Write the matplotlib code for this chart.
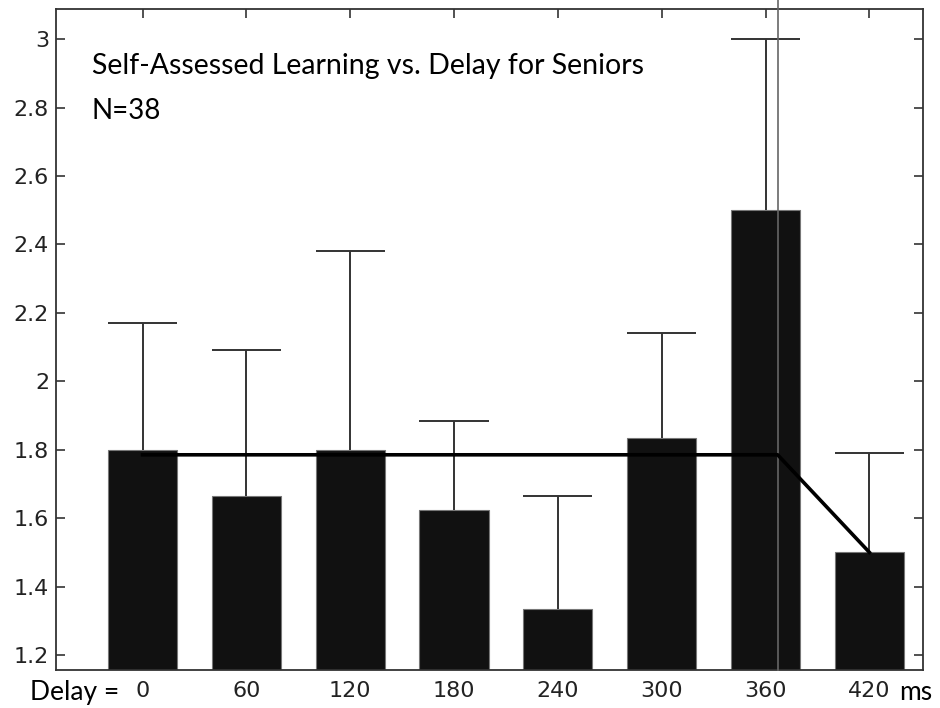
import matplotlib
matplotlib.use("Agg")
import matplotlib.pyplot as plt

# Delay conditions (ms) and the self-assessed learning scores
delays = [0, 60, 120, 180, 240, 300, 360, 420]
means = [1.80, 1.665, 1.80, 1.625, 1.333, 1.833, 2.50, 1.50]
err_tops = [2.17, 2.09, 2.38, 1.885, 1.665, 2.14, 3.00, 1.79]

# fitted line (flat, then breaking down to the last condition)
fit_x = [0, 367, 420]
fit_y = [1.785, 1.785, 1.50]
break_x = 367

yticks = [1.2, 1.4, 1.6, 1.8, 2.0, 2.2, 2.4, 2.6, 2.8, 3.0]
ytick_labels = ["1.2", "1.4", "1.6", "1.8", "2", "2.2", "2.4", "2.6", "2.8", "3"]

BAR_WIDTH = 40
AXIS_GREY = "#333333"
LABEL_FONT = "Lato"

fig = plt.figure(figsize=(9.4, 7.08), dpi=100)
ax = fig.add_axes([56 / 940, 38 / 708, 867 / 940, 661 / 708])

ax.bar(delays, means, width=BAR_WIDTH, color="#111111",
       edgecolor="#777777", linewidth=0.8, zorder=2)

# one-sided error bars with caps as wide as the bars
ax.vlines(delays, means, err_tops, color=AXIS_GREY, linewidth=1.4, zorder=3)
ax.hlines(err_tops, [d - BAR_WIDTH / 2 for d in delays],
          [d + BAR_WIDTH / 2 for d in delays],
          color=AXIS_GREY, linewidth=1.4, zorder=3)

ax.axvline(break_x, ymin=0, ymax=1.014, color="#666666", linewidth=1.2,
           clip_on=False, zorder=3)
ax.plot(fit_x, fit_y, color="black", linewidth=2.6, zorder=4)

ax.set_xlim(-50, 451)
ax.set_ylim(1.156, 3.088)
ax.set_xticks(delays)
ax.set_xticklabels([str(d) for d in delays], family="DejaVu Sans")
ax.set_yticks(yticks)
ax.set_yticklabels(ytick_labels, family="DejaVu Sans")

ax.tick_params(direction="in", length=6.5, width=1.2, color=AXIS_GREY,
               top=True, right=True, labelsize=16, labelcolor="#222222")
ax.tick_params(axis="x", pad=8)
ax.tick_params(axis="y", pad=5)
for spine in ax.spines.values():
    spine.set_color(AXIS_GREY)
    spine.set_linewidth(1.3)

ax.text(92 / 940, 1 - 74 / 708, "Self-Assessed Learning vs. Delay for Seniors",
        transform=fig.transFigure, family=LABEL_FONT, fontsize=20.5, color="black")
ax.text(92 / 940, 1 - 119 / 708, "N=38",
        transform=fig.transFigure, family=LABEL_FONT, fontsize=20, color="black")
ax.text(30 / 940, 1 - 700 / 708, "Delay =",
        transform=fig.transFigure, family=LABEL_FONT, fontsize=19, color="black")
ax.text(899 / 940, 1 - 700 / 708, "ms",
        transform=fig.transFigure, family=LABEL_FONT, fontsize=19, color="black")

fig.savefig("out.png", dpi=100)
